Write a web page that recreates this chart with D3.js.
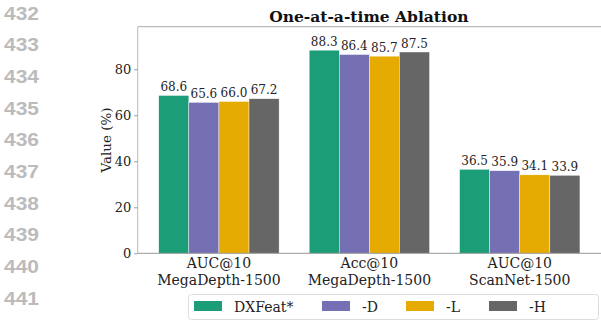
<!DOCTYPE html>
<html>
<head>
<meta charset="utf-8">
<script src="https://cdn.jsdelivr.net/npm/d3@7"></script>
<style>
body { margin: 0; background: #fff; }
svg text { font-family: "DejaVu Serif", serif; fill: #222; }
</style>
</head>
<body>
<script>
// chart data
var categories = [["AUC@10", "MegaDepth-1500"], ["Acc@10", "MegaDepth-1500"], ["AUC@10", "ScanNet-1500"]];
var seriesNames = ["DXFeat*", "-D", "-L", "-H"];
var seriesColors = ["#1b9e77", "#7570b3", "#e6ab02", "#666666"];
var values = [
    [68.6, 88.3, 36.5], // DXFeat*
    [65.6, 86.4, 35.9], // -D
    [66.0, 85.7, 34.1], // -L
    [67.2, 87.5, 33.9]  // -H
];
var yTicks = [0, 20, 40, 60, 80];
var lineNumbers = [432, 433, 434, 435, 436, 437, 438, 439, 440, 441];

var w = 601, h = 320;
var svg = d3.select("body").append("svg")
    .attr("width", w)
    .attr("height", h);

// gray line numbers down the left margin
svg.selectAll(".lineNo")
    .data(lineNumbers)
    .enter()
    .append("text")
    .attr("class", "lineNo")
    .attr("x", 4)
    .attr("y", function(d, i){ return 19.5 + i * 31.7; })
    .attr("textLength", 35)
    .attr("lengthAdjust", "spacingAndGlyphs")
    .style("font-family", "'Liberation Sans', Arial, sans-serif")
    .style("font-weight", "bold")
    .style("font-size", "17.5px")
    .style("fill", "#bbbbbb")
    .text(function(d){ return d; });

var pLeft = 137.7, pRight = 601, pTop = 26.7, pBottom = 253.3;

var x = d3.scaleLinear()
    .domain([-0.54, 2.54])
    .range([pLeft, pRight]);
var y = d3.scaleLinear()
    .domain([0, 98.5])
    .range([pBottom, pTop]);

var barW = 0.2;

// spines
svg.append("line")
    .attr("x1", pLeft).attr("x2", pRight)
    .attr("y1", pTop).attr("y2", pTop)
    .style("stroke", "#aaaaaa").style("stroke-width", 1);
svg.append("line")
    .attr("x1", pLeft).attr("x2", pLeft)
    .attr("y1", pTop).attr("y2", pBottom)
    .style("stroke", "#bbbbbb").style("stroke-width", 1);

// bars
var groups = svg.selectAll(".series")
    .data(values)
    .enter()
    .append("g")
    .attr("class", "series")
    .style("fill", function(d, i){ return seriesColors[i]; });

groups.each(function(vals, s){
    var g = d3.select(this);
    g.selectAll("rect")
        .data(vals)
        .enter()
        .append("rect")
        .attr("x", function(d, i){ return x(i + (s - 1.5) * barW - barW / 2); })
        .attr("width", x(barW) - x(0))
        .attr("y", function(d){ return y(d); })
        .attr("height", function(d){ return y(0) - y(d); })
        .style("stroke", "#ffffff")
        .style("stroke-width", 0.4);
    g.selectAll("text")
        .data(vals)
        .enter()
        .append("text")
        .attr("text-anchor", "middle")
        .attr("x", function(d, i){ return x(i + (s - 1.5) * barW); })
        .attr("y", function(d){ return y(d) - 4.5; })
        .style("font-size", "12px")
        .style("fill", "#222")
        .text(function(d){ return d3.format(".1f")(d); });
});

// bottom spine
svg.append("line")
    .attr("x1", pLeft).attr("x2", pRight)
    .attr("y1", pBottom).attr("y2", pBottom)
    .style("stroke", "#999999").style("stroke-width", 1);

// y axis
var yAxis = d3.axisLeft(y)
    .tickValues(yTicks)
    .tickSize(3.5)
    .tickPadding(3);
var yAx = svg.append("g")
    .attr("transform", "translate(" + pLeft + ",0)")
    .call(yAxis);
yAx.select(".domain").remove();
yAx.selectAll(".tick line").style("stroke", "#999");
yAx.selectAll(".tick text")
    .style("font-family", "'DejaVu Serif', serif")
    .style("font-size", "13px")
    .style("fill", "#222");

// x axis labels (two lines each)
var xAx = svg.append("g");
var xl = xAx.selectAll("text")
    .data(categories)
    .enter()
    .append("text")
    .attr("text-anchor", "middle")
    .attr("y", 268)
    .style("font-size", "14px");
xl.append("tspan")
    .attr("x", function(d, i){ return x(i); })
    .text(function(d){ return d[0]; });
xl.append("tspan")
    .attr("x", function(d, i){ return x(i); })
    .attr("dy", 16.5)
    .text(function(d){ return d[1]; });

// y label
svg.append("text")
    .attr("transform", "translate(111," + ((pTop + pBottom) / 2) + ") rotate(-90)")
    .attr("text-anchor", "middle")
    .style("font-size", "13.5px")
    .text("Value (%)");

// title
svg.append("text")
    .attr("x", (pLeft + 600) / 2)
    .attr("y", 22)
    .attr("text-anchor", "middle")
    .style("font-size", "15.5px")
    .style("font-weight", "bold")
    .style("fill", "#111")
    .text("One-at-a-time Ablation");

// legend
var legend = svg.append("g");
legend.append("rect")
    .attr("x", 188.5).attr("y", 294.5)
    .attr("width", 410).attr("height", 25)
    .attr("rx", 3)
    .style("fill", "#fff")
    .style("stroke", "#dddddd");
var legX = [194, 322, 406, 489];
var items = legend.selectAll(".leg")
    .data(seriesNames)
    .enter()
    .append("g")
    .attr("class", "leg")
    .attr("transform", function(d, i){ return "translate(" + legX[i] + ",301)"; });
items.append("rect")
    .attr("width", 28).attr("height", 10)
    .style("fill", function(d, i){ return seriesColors[i]; });
items.append("text")
    .attr("x", 40)
    .attr("y", 10.5)
    .style("font-size", "14px")
    .text(function(d){ return d; });
</script>
</body>
</html>
